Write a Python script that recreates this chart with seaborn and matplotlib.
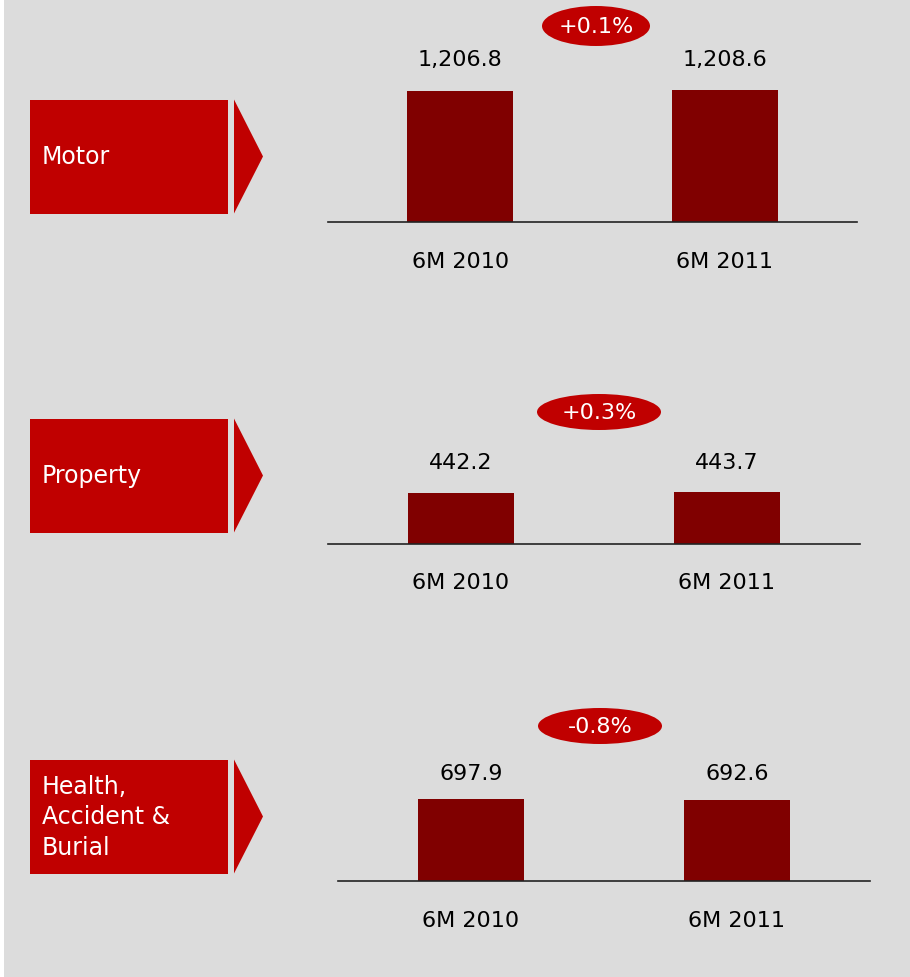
import matplotlib
matplotlib.use("Agg")
import matplotlib.pyplot as plt
import seaborn as sns
from matplotlib.patches import Rectangle, Polygon, Ellipse

# data
segments = ["Motor", "Property", "Health,\nAccident &\nBurial"]
periods = ["6M 2010", "6M 2011"]
values_2010 = [1206.8, 442.2, 697.9]
values_2011 = [1208.6, 443.7, 692.6]

# layout (pixels of the 910x978 canvas)
W, H = 910, 978
box_top = [100, 419, 760]
axis_y = [222, 544, 881]
axis_x = [(328, 857), (328, 860), (338, 870)]
y_top = [1290, 1214, 1206]          # ylim top for a 140 px tall axes
bubble = [(596, 27, 108, 40), (599, 413, 124, 36), (600, 727, 124, 36)]
label_pad = [15.5, 14.5, 12]
tick_pad = [21.5, 20.5, 21]

BG = "#dcdcdc"
RED = "#c00000"
BAR = "#800000"

sns.set_theme(style="white")
plt.rcParams["font.family"] = ["DejaVu Sans"]

fig = plt.figure(figsize=(W / 100, H / 100), dpi=100)
fig.patch.set_facecolor(BG)


def fx(x):
    return x / W


def fy(y):
    return 1 - y / H


# thin white strip at the left edge
fig.patches.append(Rectangle((0, 0), fx(4), 1, transform=fig.transFigure,
                             facecolor="white", edgecolor="none"))

ax_h = 140
for i, seg in enumerate(segments):
    vals = [values_2010[i], values_2011[i]]

    # red label box + arrow head
    top = box_top[i] + 0.5
    fig.patches.append(Rectangle((fx(30), fy(top + 114)), fx(198), 114 / H,
                                 transform=fig.transFigure, facecolor=RED,
                                 edgecolor="none"))
    fig.patches.append(Polygon([(fx(234), fy(top)), (fx(234), fy(top + 114)),
                                (fx(263), fy(top + 57))], closed=True,
                               transform=fig.transFigure, facecolor=RED,
                               edgecolor="none"))
    fig.text(fx(42), fy(top + 57), seg, color="white", fontsize=17,
             ha="left", va="center", linespacing=1.35)

    # bar chart
    x0, x1 = axis_x[i]
    ax = fig.add_axes([fx(x0), fy(axis_y[i] + 0.5), (x1 - x0) / W, ax_h / H])
    sns.barplot(x=periods, y=vals, ax=ax, color=BAR, saturation=1, width=0.4,
                linewidth=0, edgecolor="none")
    ax.set_facecolor("none")
    ax.set_xlim(-0.5, 1.5)
    ax.set_ylim(0, y_top[i])
    for s in ["top", "left", "right"]:
        ax.spines[s].set_visible(False)
    ax.spines["bottom"].set_color("#222222")
    ax.spines["bottom"].set_linewidth(1.2)
    ax.set_yticks([])
    ax.set_xlabel("")
    ax.set_ylabel("")
    ax.tick_params(axis="x", length=0, pad=tick_pad[i], labelsize=16,
                   labelcolor="#000000")
    ax.bar_label(ax.containers[0], labels=[f"{v:,.1f}" for v in vals],
                 padding=label_pad[i], fontsize=16, color="#000000")

    # change bubble
    cx, cy, ew, eh = bubble[i]
    change = (vals[1] / vals[0] - 1) * 100
    fig.patches.append(Ellipse((fx(cx), fy(cy)), ew / W, eh / H,
                               transform=fig.transFigure, facecolor=RED,
                               edgecolor="none"))
    fig.text(fx(cx), fy(cy), f"{change:+.1f}%", color="white", fontsize=16,
             ha="center", va="center")

fig.savefig("out.png", dpi=100, facecolor=BG)
